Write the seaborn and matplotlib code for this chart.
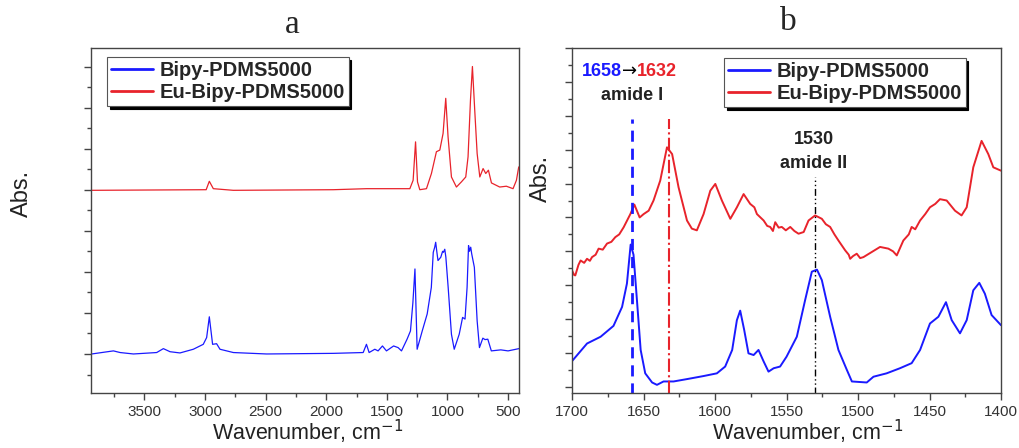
import matplotlib
matplotlib.use('Agg')
import matplotlib.pyplot as plt
from matplotlib.ticker import MultipleLocator
import seaborn as sns

sns.set_style('ticks')
plt.rcParams['font.family'] = ['Liberation Sans', 'DejaVu Sans']

# ---- panel a: full FTIR spectra ----
a_bipy_wn = [3934, 3755, 3700, 3590, 3398, 3343, 3288, 3206, 3096, 3014, 2986, 2964,
             2937, 2904, 2876, 2766, 2492, 1942, 1695, 1668, 1646, 1599, 1572, 1536,
             1503, 1444, 1407, 1379, 1333, 1305, 1285, 1268, 1250, 1208, 1167, 1133,
             1117, 1105, 1097, 1088, 1078, 1055, 1040, 1033, 1022, 1013, 994, 967, 944,
             903, 875, 855, 838, 826, 818, 808, 800, 778, 755, 736, 708, 690, 667, 638,
             560, 500, 411]
a_bipy_abs = [0.0, 0.015, 0.007, 0.0, 0.007, 0.026, 0.011, 0.005, 0.023, 0.047, 0.08, 0.181,
              0.047, 0.05, 0.023, 0.007, 0.0, 0.003, 0.007, 0.047, 0.007, 0.023, 0.015, 0.039,
              0.015, 0.039, 0.031, 0.015, 0.072, 0.112, 0.25, 0.414, 0.023, 0.112, 0.195, 0.324,
              0.495, 0.52, 0.544, 0.5, 0.455, 0.471, 0.5, 0.495, 0.51, 0.471, 0.324, 0.096, 0.023,
              0.096, 0.178, 0.17, 0.324, 0.528, 0.5, 0.52, 0.488, 0.422, 0.161, 0.031, 0.077, 0.07,
              0.072, 0.015, 0.02, 0.015, 0.026]

a_eu_wn = [3934, 2990, 2964, 2931, 2766, 1942, 1667, 1393, 1310, 1283, 1263, 1247, 1228,
           1173, 1132, 1091, 1063, 1036, 1014, 995, 967, 926, 885, 849, 830, 810, 794,
           775, 755, 733, 706, 684, 662, 637, 569, 514, 459, 431, 412]
a_eu_abs = [0.797, 0.80, 0.841, 0.805, 0.797, 0.80, 0.805, 0.805, 0.805, 0.846, 1.033, 0.838, 0.80,
            0.805, 0.879, 0.985, 0.993, 1.074, 1.245, 1.058, 0.862, 0.813, 0.838, 0.862, 0.96, 1.237, 1.40,
            1.188, 0.976, 0.862, 0.903, 0.879, 0.895, 0.833, 0.813, 0.817, 0.805, 0.846, 0.911]

# ---- panel b: amide region ----
b_bipy_wn = [1700, 1689.5, 1680, 1671, 1665, 1661.6, 1659, 1657, 1654.6, 1652, 1648.8, 1644,
             1640.6, 1636, 1629, 1619.6, 1608, 1598.7, 1592.9, 1588, 1584.7, 1582.4, 1579.6,
             1576.6, 1573, 1569.6, 1566, 1562.6, 1559, 1554.5, 1550, 1542.8, 1537, 1532.3,
             1528.7, 1525.3, 1519.5, 1513.7, 1507.8, 1504.3, 1493.9, 1489.2, 1480, 1470.7,
             1462.5, 1456.6, 1449.7, 1443.8, 1438.5, 1434.5, 1428.7, 1424, 1419.4, 1415.2,
             1411.3, 1406.6, 1400]
b_bipy_abs = [0.076, 0.128, 0.148, 0.18, 0.236, 0.305, 0.42, 0.39, 0.256, 0.109, 0.04, 0.013,
              0.006, 0.016, 0.016, 0.023, 0.032, 0.04, 0.06, 0.109, 0.197, 0.225, 0.168,
              0.099, 0.094, 0.109, 0.075, 0.045, 0.055, 0.06, 0.089, 0.148, 0.256, 0.34,
              0.346, 0.315, 0.207, 0.109, 0.05, 0.016, 0.013, 0.03, 0.04, 0.055,
              0.07, 0.109, 0.187, 0.207, 0.25, 0.197, 0.158, 0.197, 0.285, 0.307,
              0.275, 0.212, 0.182]

b_eu_wn = [1700, 1698.5, 1697.7, 1695.5, 1694, 1691.5, 1689.5, 1687.5, 1686, 1683.5, 1681.4,
           1678.5, 1675.5, 1672.5, 1669.7, 1667, 1663.9, 1659.2, 1656.4,
           1652.7, 1649.9, 1646.4, 1643, 1638.3, 1633.6, 1630, 1625.5, 1619.6, 1616.2, 1612.7,
           1608, 1603.3, 1599.8, 1595.2, 1589.3, 1584.7, 1580, 1575.4, 1572.5, 1570.7, 1566,
           1563.5, 1561.4, 1559.5, 1557.9, 1555.5, 1553.3, 1550.5, 1547.4, 1544.5, 1541.6, 1538,
           1534.6, 1530, 1525.3, 1522.5, 1519.5, 1516.5, 1513.7, 1509, 1506.5, 1505.5, 1503.5,
           1500.9, 1498.5, 1496.2, 1493.5, 1490.4, 1484.6, 1478.8, 1475.5, 1472.9, 1468.3,
           1464.5, 1462.5, 1460, 1456.6, 1453, 1449.7, 1446, 1442.7, 1438, 1432.2, 1427.6, 1424,
           1419.4, 1413.6, 1408.9, 1405.4, 1400]
b_eu_abs = [0.344, 0.33, 0.329, 0.36, 0.373, 0.366, 0.378, 0.372, 0.383, 0.39, 0.408,
            0.405, 0.423, 0.428, 0.442, 0.45, 0.471, 0.51, 0.538,
            0.5, 0.51, 0.52, 0.55, 0.609, 0.707, 0.687, 0.589, 0.491, 0.467, 0.462,
            0.51, 0.579, 0.599, 0.55, 0.496, 0.53, 0.569, 0.54, 0.53, 0.51, 0.491,
            0.475, 0.472, 0.46, 0.486, 0.47, 0.472, 0.462, 0.472, 0.46, 0.452, 0.457,
            0.491, 0.506, 0.496, 0.48, 0.472, 0.45, 0.432, 0.403, 0.39, 0.378, 0.386,
            0.393, 0.38, 0.383, 0.39, 0.398, 0.413, 0.408, 0.4, 0.388, 0.432,
            0.45, 0.472, 0.465, 0.491, 0.51, 0.53, 0.54, 0.554, 0.55, 0.52, 0.506, 0.53,
            0.648, 0.726, 0.687, 0.648, 0.638]

labels = ['Bipy-PDMS5000', 'Eu-Bipy-PDMS5000']
blue = '#1a1aff'
red = '#e8232b'
spine_col = '#444444'

fig = plt.figure(figsize=(10.2, 4.48), dpi=100)
ax_a = fig.add_axes([0.0892, 0.1228, 0.4196, 0.770])
ax_b = fig.add_axes([0.5608, 0.1228, 0.4206, 0.770])

sns.lineplot(x=a_bipy_wn, y=a_bipy_abs, ax=ax_a, color=blue, lw=0.9, label=labels[0], estimator=None)
sns.lineplot(x=a_eu_wn, y=a_eu_abs, ax=ax_a, color=red, lw=0.9, label=labels[1], estimator=None)
ax_a.set_xlim(3940, 410)
ax_a.set_ylim(-0.19, 1.49)
ax_a.xaxis.set_major_locator(MultipleLocator(500))
ax_a.xaxis.set_minor_locator(MultipleLocator(250))
ax_a.yaxis.set_major_locator(MultipleLocator(0.2))
ax_a.yaxis.set_minor_locator(MultipleLocator(0.1))

sns.lineplot(x=b_bipy_wn, y=b_bipy_abs, ax=ax_b, color=blue, lw=1.4, label=labels[0], estimator=None)
sns.lineplot(x=b_eu_wn, y=b_eu_abs, ax=ax_b, color=red, lw=1.4, label=labels[1], estimator=None)
ax_b.set_xlim(1700, 1400)
ax_b.set_ylim(-0.018, 1.0)
ax_b.xaxis.set_major_locator(MultipleLocator(50))
ax_b.xaxis.set_minor_locator(MultipleLocator(25))
ax_b.yaxis.set_major_locator(MultipleLocator(0.1))
ax_b.yaxis.set_minor_locator(MultipleLocator(0.05))

# reference lines in b
ax_b.plot([1658, 1658], [-0.02, 0.79], color=blue, ls=(0, (4, 2.5)), lw=2)
ax_b.plot([1632, 1632], [-0.02, 0.79], color=red, ls='-.', lw=1.5)
ax_b.plot([1530, 1530], [-0.02, 0.62], color='black', ls=(0, (5, 2, 1, 2, 1, 2)), lw=1)

bold = dict(fontsize=13, fontweight='bold')
t1 = ax_b.text(1693, 0.93, '1658', color=blue, va='center', ha='left', **bold)
t2 = ax_b.annotate('→', xy=(1, 0), xycoords=t1, va='bottom', ha='left', color='black',
                   fontsize=13, family=['DejaVu Sans'])
ax_b.annotate('1632', xy=(1, 0), xycoords=t2, va='bottom', ha='left', color=red, **bold)
ax_b.text(1658, 0.86, 'amide I', ha='center', va='center', color='#222222', **bold)
ax_b.text(1531, 0.73, '1530', ha='center', va='center', color='#222222', **bold)
ax_b.text(1531, 0.66, 'amide II', ha='center', va='center', color='#222222', **bold)

for ax, anchor in [(ax_a, (0.037, 0.974)), (ax_b, (0.354, 0.971))]:
    ax.set_xlabel('')
    ax.set_ylabel('')
    ax.set_yticklabels([])
    for s in ax.spines.values():
        s.set_visible(True)
        s.set_color(spine_col)
        s.set_linewidth(1.0)
    ax.tick_params(which='major', direction='out', length=5, width=1, color=spine_col,
                   labelsize=11, labelcolor='#333333', pad=4)
    ax.tick_params(which='minor', direction='out', length=3, width=1, color=spine_col)
    ax.tick_params(axis='x', which='both', top=False)
    ax.tick_params(axis='y', which='both', right=False)
    leg = ax.legend(loc='upper left', bbox_to_anchor=anchor, borderaxespad=0,
                    prop={'size': 14.5, 'weight': 'bold'}, frameon=True, fancybox=False,
                    shadow={'color': 'black', 'alpha': 1}, handlelength=2.1,
                    labelspacing=0.15, borderpad=0.2, handletextpad=0.3)
    leg.get_frame().set_edgecolor('#555555')
    leg.get_frame().set_linewidth(0.8)
    for line in leg.get_lines():
        line.set_linewidth(2)

fig.text(292 / 1020, 1 - 25 / 448, 'a', ha='center', va='center', fontsize=24,
         family=['Liberation Serif', 'DejaVu Serif'])
fig.text(788 / 1020, 1 - 22 / 448, 'b', ha='center', va='center', fontsize=24,
         family=['Liberation Serif', 'DejaVu Serif'])
fig.text(22 / 1020, 1 - 193 / 448, 'Abs.', rotation=90, ha='center', va='center', fontsize=17, color='#222222')
fig.text(541 / 1020, 1 - 178 / 448, 'Abs.', rotation=90, ha='center', va='center', fontsize=17, color='#222222')
fig.text(308 / 1020, 0.004, 'Wavenumber, cm$^{-1}$', ha='center', va='bottom', fontsize=15.5, color='#222222')
fig.text(808 / 1020, 0.004, 'Wavenumber, cm$^{-1}$', ha='center', va='bottom', fontsize=15.5, color='#222222')

fig.savefig('out.png', dpi=100)
